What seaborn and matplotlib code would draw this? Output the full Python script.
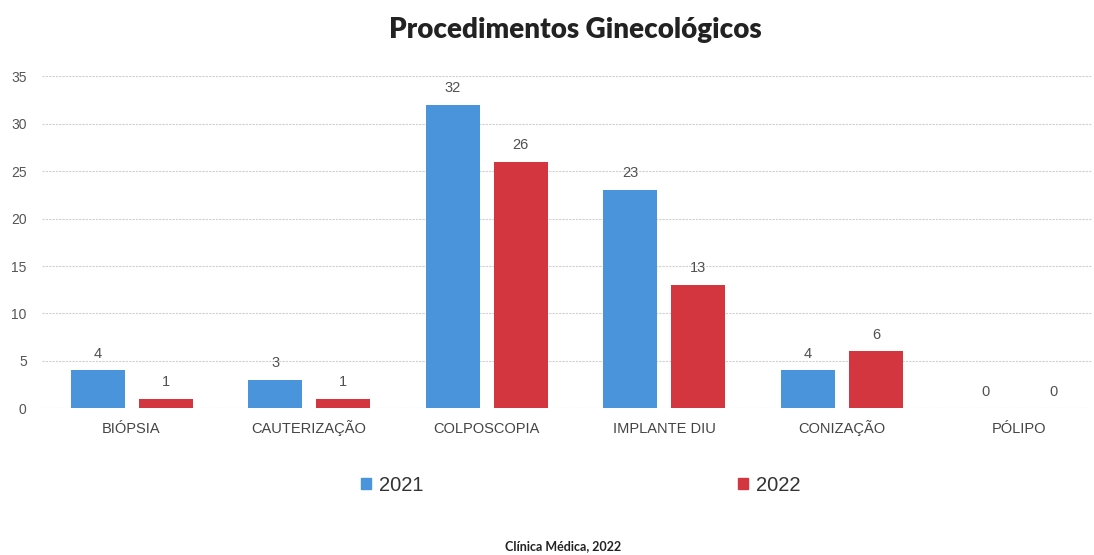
import pandas as pd
import matplotlib.pyplot as plt
import seaborn as sns

procedimentos = ["BIÓPSIA", "CAUTERIZAÇÃO", "COLPOSCOPIA", "IMPLANTE DIU", "CONIZAÇÃO", "PÓLIPO"]
ano_2021 = [4, 3, 32, 23, 4, 0]
ano_2022 = [1, 1, 26, 13, 6, 0]
anos = ["2021", "2022"]

df = pd.DataFrame({
    "Procedimento": procedimentos * 2,
    "Valor": ano_2021 + ano_2022,
    "Ano": [anos[0]] * len(procedimentos) + [anos[1]] * len(procedimentos),
})

sns.set_style("white")
plt.rcParams["font.family"] = ["Liberation Sans", "DejaVu Sans"]
cores = {"2021": "#4a94dc", "2022": "#d3363f"}

fig = plt.figure(figsize=(10.94, 5.55), dpi=100)
# eixo: x de 42 a 1092 px, y de 76 a 408 px
ax = fig.add_axes([0.0384, 0.264, 0.96, 0.599])

sns.barplot(data=df, x="Procedimento", y="Valor", hue="Ano", palette=cores,
            width=0.766, gap=0.206, ax=ax, legend=False, saturation=1, linewidth=0)

for c in ax.containers:
    ax.bar_label(c, padding=7, fontsize=10.5, color="#505050")

ax.set_ylim(0, 35)
ax.set_yticks(range(0, 36, 5))
ax.set_xlim(-0.504, 5.41)
ax.grid(axis="y", color="#d0d0d0", linestyle=(0, (2, 1)), linewidth=0.8)
ax.set_axisbelow(True)
sns.despine(ax=ax, left=True, bottom=True)
ax.tick_params(axis="y", length=0, labelsize=10, labelcolor="#555555", pad=11)
ax.tick_params(axis="x", length=0, labelsize=10.5, labelcolor="#444444", pad=17.6)
for lbl in ax.get_xticklabels():
    lbl.set_va("baseline")
ax.set_xlabel("")
ax.set_ylabel("")

fig.text(0.526, 0.946, "Procedimentos Ginecológicos", ha="center", va="center",
         fontsize=20, fontweight="heavy", color="#222222", family=["Lato", "DejaVu Sans"])

handles = [plt.Rectangle((0, 0), 1, 1, color=cores[a]) for a in anos]
leg = fig.legend(handles, anos, loc="center", bbox_to_anchor=(0.531, 0.126), ncol=2,
                 frameon=False, fontsize=14.5, handlelength=0.5, handleheight=0.5,
                 handletextpad=0.4, columnspacing=15.6)
for t in leg.get_texts():
    t.set_color("#333333")

fig.text(0.515, 0.016, "Clínica Médica, 2022", ha="center", va="center",
         fontsize=9, fontweight="bold", color="#222222", family=["Lato", "DejaVu Sans"])

fig.savefig("out.png", dpi=100)
